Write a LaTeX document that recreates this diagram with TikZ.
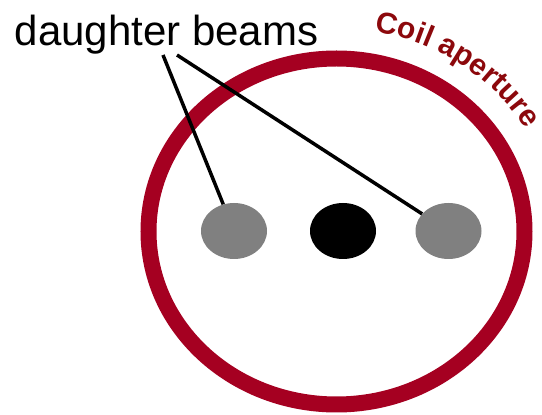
\documentclass[tikz,border=0pt]{standalone}
\usepackage{fontspec}
\setmainfont{Liberation Sans}
\usepackage{xcolor}
\definecolor{CoilRed}  {RGB}{165, 0,  33}
\definecolor{CoilText} {RGB}{140, 8,  12}
\definecolor{BeamGray} {RGB}{128, 128, 128}
\usepackage{tikz}
\usetikzlibrary{shapes.geometric, positioning, calc, decorations.text}

\begin{document}
\begin{tikzpicture}[x=1pt, y=1pt,
  beam/.style  = {ellipse, inner sep=0pt, minimum width=66pt,
                  minimum height=56pt},
  pointer/.style = {draw=black, line width=3.5pt}
]
  \useasboundingbox (0,0) rectangle (542,415);

  %% Coil aperture ring
  \coordinate (ctr) at (336.5,183.5);
  \draw[CoilRed, line width=16pt] (ctr) ellipse [x radius=188pt, y radius=173pt];
  \path[decorate, decoration={text along path, text color=CoilText,
        text={|\bfseries\fontsize{30}{30}\selectfont|Coil aperture}}]
    ($(ctr)+(80:219pt and 203pt)$) arc [start angle=80, end angle=15,
                                        x radius=219pt, y radius=203pt];

  %% Beams
  \node[beam, fill=BeamGray] (lbeam) at (234,184)   {};
  \node[beam, fill=black]    (mbeam) at (343,184)   {};
  \node[beam, fill=BeamGray] (rbeam) at (448.5,184) {};

  %% Label and pointers
  \node[inner sep=0pt, anchor=base, font=\fontsize{42}{46}\selectfont]
    (lbl) at (166.5,369) {daughter beams};
  \coordinate (p1) at (163,360);
  \coordinate (p2) at (177,360);
  \draw[pointer] (p1) -- (lbeam);
  \draw[pointer] (p2) -- (rbeam);
\end{tikzpicture}
\end{document}
